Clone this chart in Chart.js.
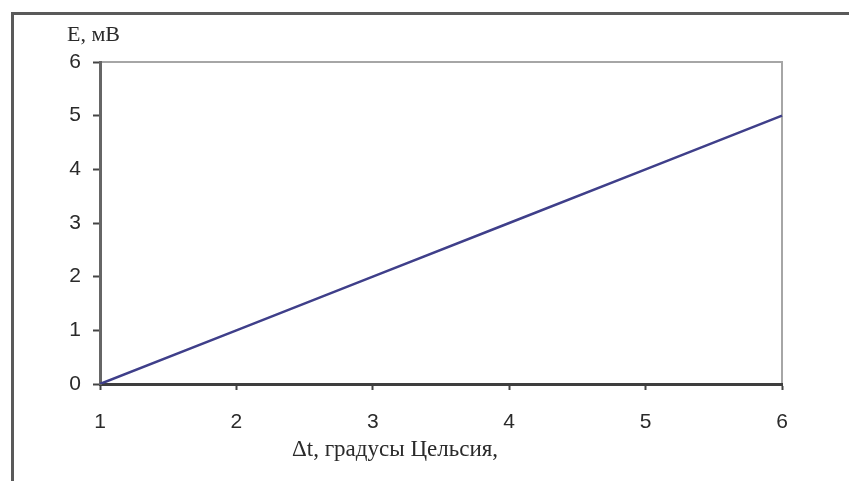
<!DOCTYPE html>
<html>
<head>
<meta charset="utf-8">
<script src="https://cdn.jsdelivr.net/npm/chart.js@4"></script>
<style>
  html, body { margin: 0; padding: 0; background: #fff; }
  #wrap { position: relative; width: 849px; height: 481px; }
  #frame {
    position: absolute; left: 11px; top: 12px; right: 0; bottom: 0;
    border-top: 3px solid #5a5a5a; border-left: 3px solid #5a5a5a;
  }
  canvas { position: absolute; left: 0; top: 0; }
</style>
</head>
<body>
<div id="wrap">
  <div id="frame"></div>
  <canvas id="chart" width="849" height="481"></canvas>
</div>
<script>
// data
const xLabels = ["1", "2", "3", "4", "5", "6"];
const emf = [0, 1, 2, 3, 4, 5];
const yTicks = [0, 1, 2, 3, 4, 5, 6];
const yTitle = "E, мВ";
const xTitle = "Δt, градусы Цельсия,";

const tickFont = { family: "Liberation Sans", size: 21 };

// gray frame around the plot area, drawn under the axes
const plotFrame = {
  id: "plotFrame",
  beforeDraw(chart) {
    const { ctx, chartArea: a } = chart;
    ctx.save();
    ctx.strokeStyle = "#a6a6a6";
    ctx.lineWidth = 2;
    ctx.strokeRect(a.left, a.top, a.right - a.left, a.bottom - a.top);
    ctx.restore();
  },
};

// axis captions sit where the original put them, not centred
const axisCaptions = {
  id: "axisCaptions",
  afterDraw(chart) {
    const { ctx, chartArea: a } = chart;
    ctx.save();
    ctx.fillStyle = "#2a2a2a";
    ctx.textBaseline = "middle";
    ctx.textAlign = "left";
    ctx.font = "22px 'Liberation Serif'";
    ctx.fillText(yTitle, a.left - 33, a.top - 27);
    ctx.font = "23px 'Liberation Serif'";
    ctx.fillText(xTitle, a.left + 192, a.bottom + 66);
    ctx.restore();
  },
};

new Chart(document.getElementById("chart").getContext("2d"), {
  type: "line",
  data: {
    labels: xLabels,
    datasets: [
      {
        data: emf,
        borderColor: "#3f3f8a",
        borderWidth: 2.5,
        pointRadius: 0,
        tension: 0,
      },
    ],
  },
  options: {
    responsive: false,
    animation: false,
    events: [],
    layout: { padding: { left: 0, top: 62, right: 67, bottom: 0 } },
    plugins: {
      legend: { display: false },
      tooltip: { enabled: false },
    },
    scales: {
      x: {
        offset: false,
        grid: {
          drawOnChartArea: false,
          drawTicks: true,
          tickLength: 6,
          tickWidth: 2,
          tickColor: "#444",
        },
        border: { display: true, color: "#3e3e3e", width: 3 },
        ticks: { color: "#2a2a2a", font: tickFont, padding: 20, maxRotation: 0 },
        afterFit: (s) => { s.height = 97; },
      },
      y: {
        min: 0,
        max: 6,
        afterBuildTicks: (s) => { s.ticks = yTicks.map((v) => ({ value: v })); },
        grid: {
          drawOnChartArea: false,
          drawTicks: true,
          tickLength: 7,
          tickWidth: 2,
          tickColor: "#444",
        },
        border: { display: true, color: "#666", width: 3 },
        ticks: { color: "#2a2a2a", font: tickFont, padding: 12 },
        afterFit: (s) => { s.width = 100; },
      },
    },
  },
  plugins: [plotFrame, axisCaptions],
});
</script>
</body>
</html>
